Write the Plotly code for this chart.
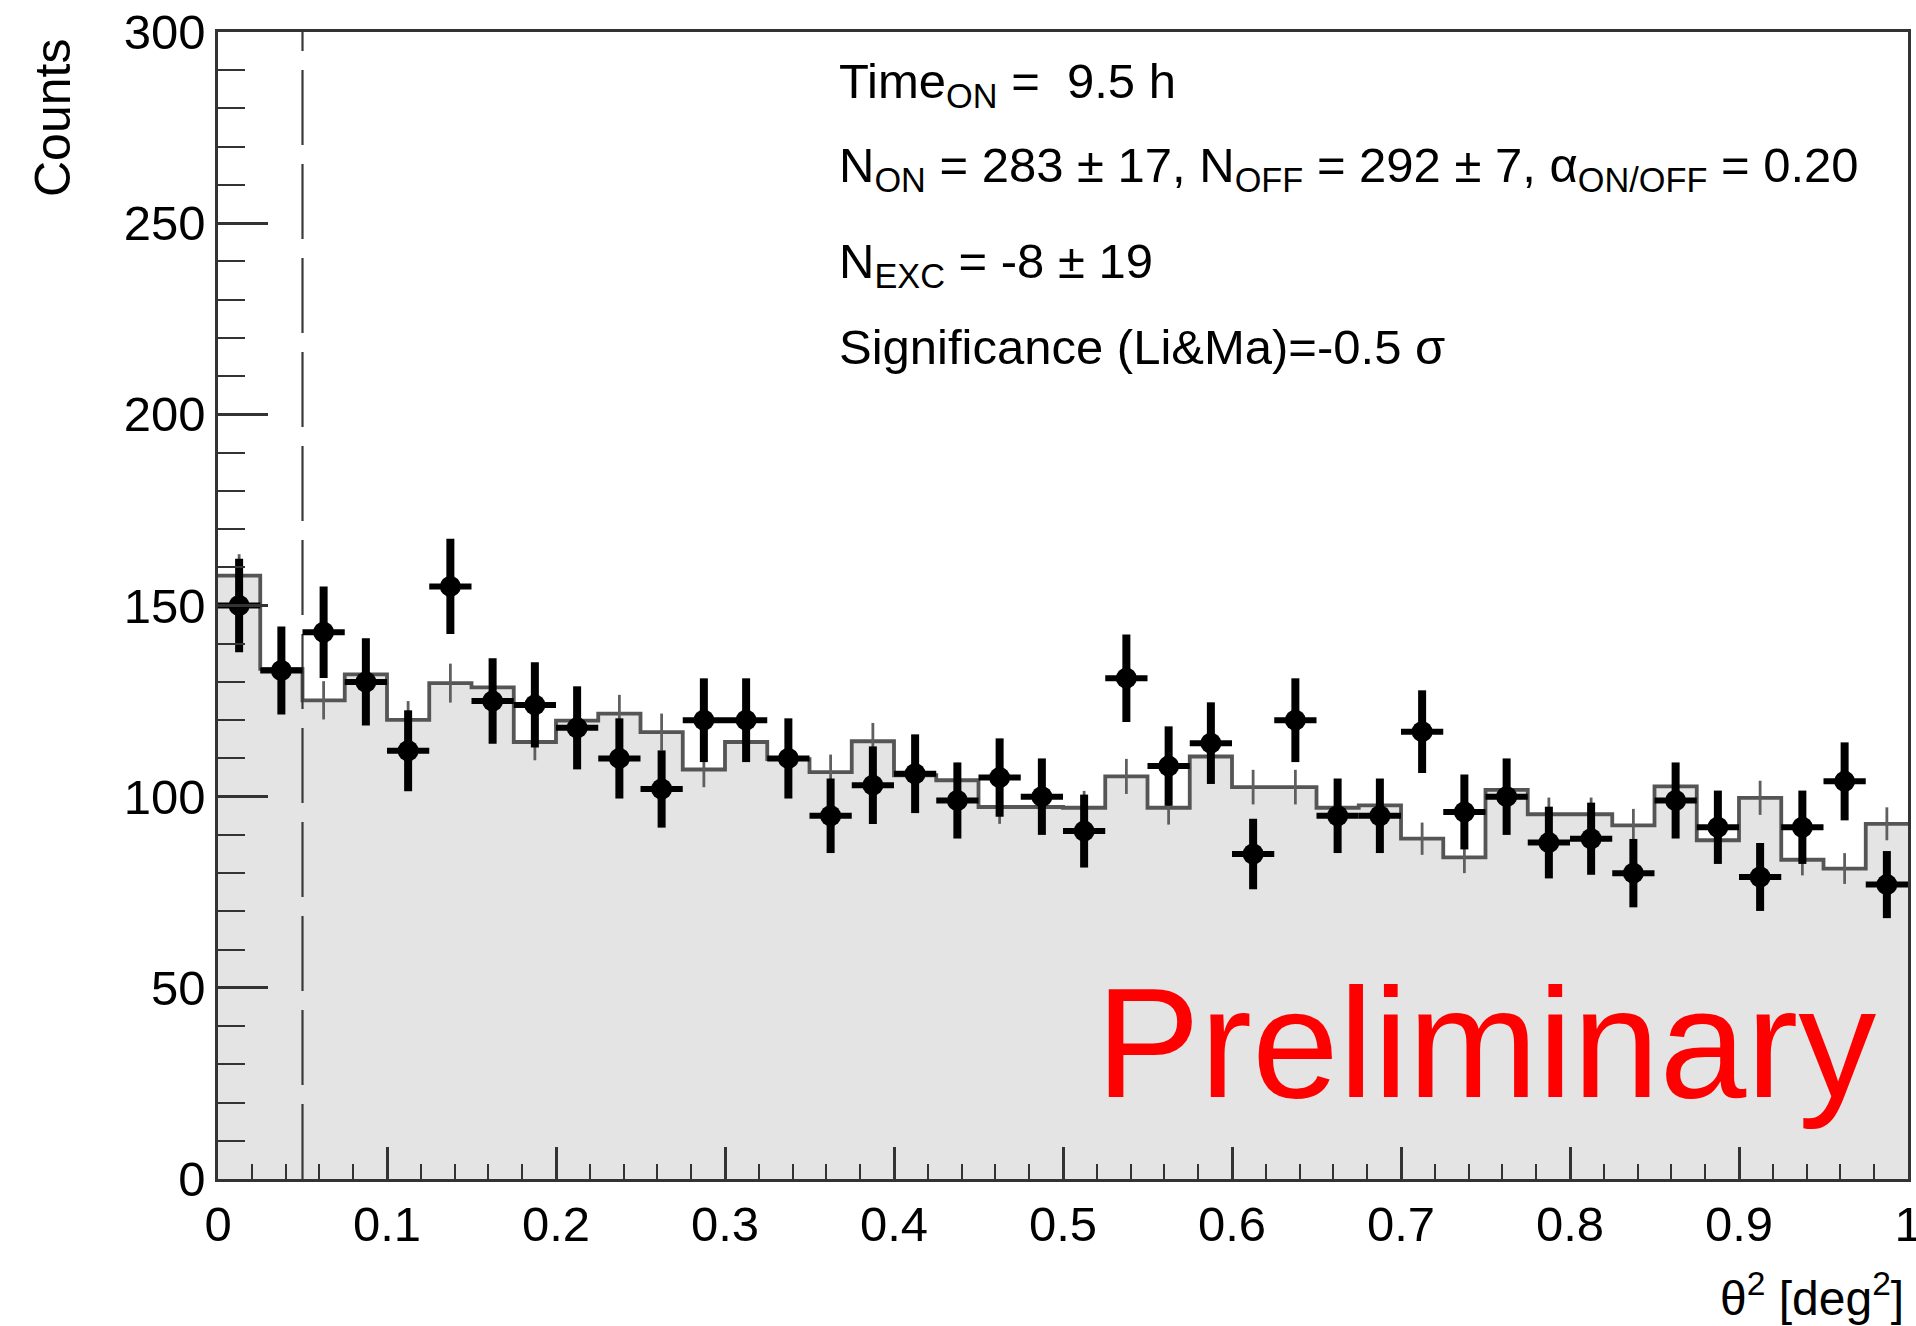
import numpy as np
import plotly.graph_objects as go

# theta^2 histogram: 40 bins between 0 and 1 deg^2
bin_lo = 0.0
bin_hi = 1.0
n_bins = 40

# ON counts per bin
on_counts = [150, 133, 143, 130, 112, 155, 125, 124, 118, 110,
             102, 120, 120, 110, 95, 103, 106, 99, 105, 100,
             91, 131, 108, 114, 85, 120, 95, 95, 117, 96,
             100, 88, 89, 80, 99, 92, 79, 92, 104, 77]

# OFF counts per bin, already scaled by alpha
off_scaled = [157.8, 133.4, 125.2, 132.0, 120.1, 129.7, 128.6, 114.3, 119.9, 121.7,
              116.9, 107.1, 114.3, 109.8, 106.4, 114.5, 105.6, 104.3, 97.3, 97.3,
              97.1, 105.3, 97.1, 110.5, 102.5, 102.5, 97.1, 97.7, 89.0, 84.1,
              101.8, 95.4, 95.4, 92.5, 102.7, 88.6, 99.7, 83.5, 81.2, 92.9]

alpha_on_off = 0.20
theta2_cut = 0.05

y_ticks = [0, 50, 100, 150, 200, 250, 300]
x_ticks = [0, 0.1, 0.2, 0.3, 0.4, 0.5, 0.6, 0.7, 0.8, 0.9, 1.0]
x_tick_text = ["0", "0.1", "0.2", "0.3", "0.4", "0.5", "0.6", "0.7", "0.8", "0.9", "1"]

info_lines = [
    "Time<sub>ON</sub> =\u00a0\u00a09.5 h",
    "N<sub>ON</sub> = 283 ± 17, N<sub>OFF</sub> = 292 ± 7, α<sub>ON/OFF</sub> = 0.20",
    "N<sub>EXC</sub> = -8 ± 19",
    "Significance (Li&Ma)=-0.5 σ",
]

# ---------------------------------------------------------------------------
W, H = 1916, 1326
L, R, T, B = 218, 1908, 32, 1179

edges = np.linspace(bin_lo, bin_hi, n_bins + 1)
centers = 0.5 * (edges[:-1] + edges[1:])
half_w = 0.5 * (edges[1] - edges[0])
on = np.array(on_counts, dtype=float)
off = np.array(off_scaled, dtype=float)
on_err = np.sqrt(on)
off_err = np.sqrt(off * alpha_on_off)

FONT = "Liberation Sans, Arial, Helvetica, sans-serif"


def px_x(p):
    return (p - L) / (R - L)


def px_y(p):
    return (B - p) / (B - T)


fig = go.Figure()

# background (OFF) histogram, filled step
fig.add_trace(go.Scatter(
    x=list(edges), y=list(off) + [off[-1]],
    mode="lines", line=dict(shape="hv", color="#555555", width=3.8),
    fill="tozeroy", fillcolor="#e4e4e4", hoverinfo="skip", showlegend=False,
))

# OFF statistical errors
fig.add_trace(go.Scatter(
    x=centers, y=off, mode="markers",
    marker=dict(size=1, color="rgba(0,0,0,0)"),
    error_y=dict(type="data", array=off_err, color="#5f5f5f", thickness=2.8, width=0),
    showlegend=False,
))

# theta^2 cut
fig.add_trace(go.Scatter(
    x=[theta2_cut, theta2_cut], y=[y_ticks[0], y_ticks[-1]],
    mode="lines", line=dict(color="#3a3a3a", width=2.2, dash="75px,19px"),
    showlegend=False,
))

# ON data points
fig.add_trace(go.Scatter(
    x=centers, y=on, mode="markers",
    marker=dict(symbol="circle", size=21, color="black"),
    error_y=dict(type="data", array=on_err, color="black", thickness=8, width=0),
    error_x=dict(type="constant", value=half_w, color="black", thickness=6, width=0),
    showlegend=False,
))

annotations = []
line_y = [84, 169, 264, 347]
for txt, yy in zip(info_lines, line_y):
    annotations.append(dict(
        x=px_x(837), y=px_y(yy), xref="paper", yref="paper",
        xanchor="left", yanchor="middle", showarrow=False, text=txt,
        font=dict(family=FONT, size=49, color="black"),
    ))

annotations.append(dict(
    x=px_x(1094), y=px_y(1043), xref="paper", yref="paper",
    xanchor="left", yanchor="middle", showarrow=False, text="Preliminary",
    font=dict(family=FONT, size=156, color="#ff0000"),
))

annotations.append(dict(
    x=px_x(53), y=px_y(118), xref="paper", yref="paper",
    xanchor="center", yanchor="middle", showarrow=False, text="Counts",
    textangle=-90, font=dict(family=FONT, size=50, color="black"),
))

annotations.append(dict(
    x=px_x(1906), y=px_y(1295), xref="paper", yref="paper",
    xanchor="right", yanchor="middle", showarrow=False,
    text="θ<sup>2</sup> [deg<sup>2</sup>]",
    font=dict(family=FONT, size=48, color="black"),
))

axis_common = dict(
    showline=True, linecolor="#333333", linewidth=2.5, mirror=True,
    ticks="inside", tickcolor="#333333", tickwidth=2.5,
    showgrid=False, zeroline=False,
    tickfont=dict(family=FONT, size=49, color="black"),
    ticklabeloverflow="allow", automargin=False,
)

fig.update_layout(
    width=W, height=H,
    margin=dict(l=L, r=W - R, t=T, b=H - B, pad=0, autoexpand=False),
    paper_bgcolor="white", plot_bgcolor="white",
    showlegend=False,
    annotations=annotations,
    xaxis=dict(
        range=[bin_lo, bin_hi + 1e-9], tickvals=x_ticks, ticktext=x_tick_text,
        ticklen=32,
        minor=dict(ticks="inside", dtick=0.02, ticklen=15, tickwidth=2.2, tickcolor="#333333"),
        **axis_common,
    ),
    yaxis=dict(
        range=[y_ticks[0], y_ticks[-1]], tickvals=y_ticks,
        ticklen=50,
        minor=dict(ticks="inside", dtick=10, ticklen=27, tickwidth=2.2, tickcolor="#333333"),
        **axis_common,
    ),
)

fig.write_html("out.html")
